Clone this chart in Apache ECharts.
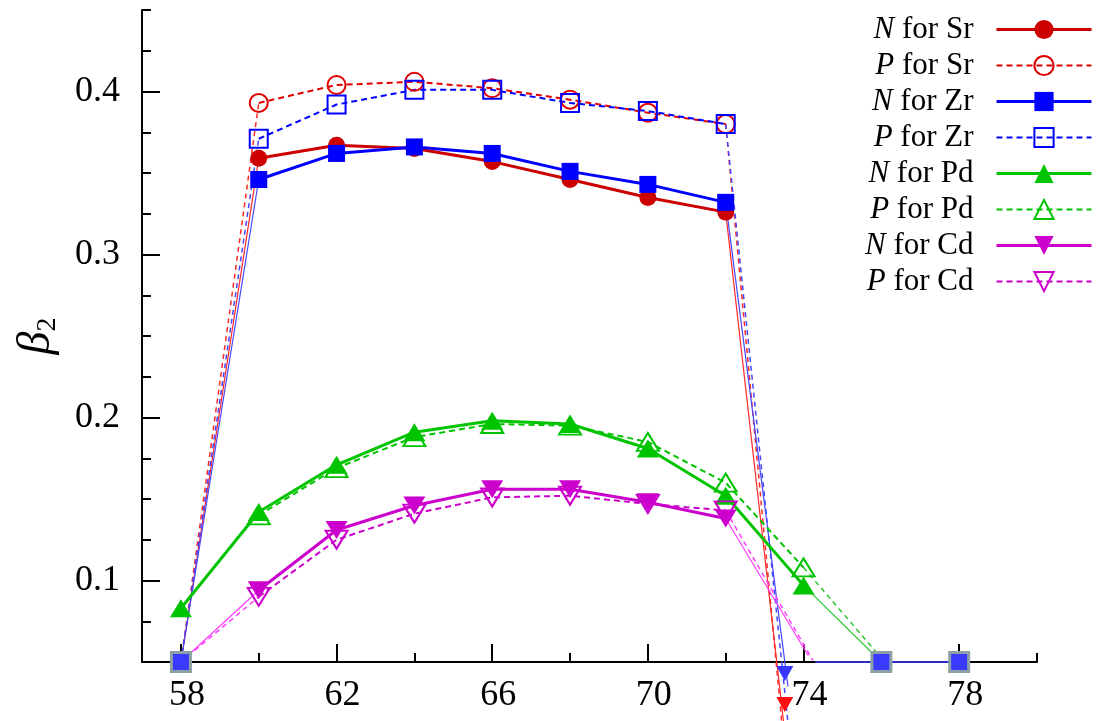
<!DOCTYPE html>
<html>
<head>
<meta charset="utf-8">
<script src="https://cdn.jsdelivr.net/npm/echarts@6/dist/echarts.min.js"></script>
<style>
  html, body { margin: 0; padding: 0; background: #ffffff; }
  #chart { width: 1101px; height: 721px; }
</style>
</head>
<body>
<div id="chart"></div>
<script>
// Neutron numbers of the computed isotopes
const coreMass = [60, 62, 64, 66, 68, 70, 72];
const pdMassN = [58, 60, 62, 64, 66, 68, 70, 72, 74];
const pdMassP = [60, 62, 64, 66, 68, 70, 72, 74];

// Quadrupole deformation beta_2, neutron (N) and proton (P)
const srN = [0.359, 0.367, 0.365, 0.357, 0.346, 0.335, 0.326];
const srP = [0.393, 0.404, 0.406, 0.402, 0.395, 0.387, 0.380];
const zrN = [0.346, 0.362, 0.366, 0.362, 0.351, 0.343, 0.332];
const zrP = [0.371, 0.392, 0.401, 0.401, 0.393, 0.388, 0.380];
const pdN = [0.083, 0.142, 0.171, 0.191, 0.198, 0.196, 0.181, 0.152, 0.097];
const pdP = [0.140, 0.169, 0.188, 0.196, 0.195, 0.185, 0.160, 0.108];
const cdN = [0.094, 0.131, 0.146, 0.156, 0.156, 0.148, 0.138];
const cdP = [0.090, 0.125, 0.141, 0.151, 0.152, 0.147, 0.143];

// Off-scale continuations of each chain: [leading point, trailing point]
const srNEdge = [[58, 0.05], [73.55, 0.0]];
const srPEdge = [[58, 0.05], [73.5, -0.002]];
const zrNEdge = [[58, 0.05], [73.6, 0.035]];
const zrPEdge = [[58, 0.05], [73.7, -0.01]];
const pdNEdge = [null, [76, 0.05]];
const pdPEdge = [null, [76.05, 0.051]];
const cdNEdge = [[58, 0.05], [74.12, 0.054]];
const cdPEdge = [[58, 0.05], [74.24, 0.051]];

// Points pinned at the lower limit of the plot
const floorPoints = [[58, 0.05], [76, 0.05], [78, 0.05]];
const floorLine = [[74.3, 0.05], [76, 0.05], [78, 0.05]];
const offScaleSr = [[73.52, 0.024]];
const offScaleZr = [[73.52, 0.043]];

// Axis ticks and labels
const xMajorTicks = [58, 62, 66, 70, 74, 78];
const xMinorTicks = [60, 64, 68, 72, 76, 80];
const yMajorTicks = [0.1, 0.2, 0.3, 0.4];
const yMinorTicks = [0.075, 0.125, 0.15, 0.175, 0.225, 0.25, 0.275, 0.325, 0.35, 0.375, 0.425, 0.45];

const FONT = 'Liberation Serif';
const DOWN_TRIANGLE = 'path://M0,0L20,0L10,16Z';

const RED = '#cc0000', RED_D = '#e00000', RED_T = '#ff2a2a';
const BLUE = '#0000ff', BLUE_T = '#4646ff';
const GREEN = '#00c400', GREEN_T = '#2ec82e';
const MAG = '#cc00cc', MAG_T = '#ff3cff';

function pairs(xs, ys) {
  return xs.map((x, i) => [x, ys[i]]);
}

// Thin connectors from the first/last computed point to the off-scale points
function connector(xs, ys, edge) {
  const out = [];
  const n = xs.length;
  if (edge[0]) out.push(edge[0], [xs[0], ys[0]]);
  if (edge[0] && edge[1]) out.push([(xs[0] + xs[n - 1]) / 2, '-']);
  if (edge[1]) out.push([xs[n - 1], ys[n - 1]], edge[1]);
  return out;
}

function mainSeries(name, xs, ys, color, dashed, symbol, size, hollow) {
  return {
    name: name,
    type: 'line',
    data: pairs(xs, ys),
    symbol: symbol,
    symbolSize: size,
    showAllSymbol: true,
    clip: false,
    z: 3,
    lineStyle: { color: color, width: dashed ? 2 : 3, type: dashed ? [6, 4] : 'solid' },
    itemStyle: hollow
      ? { color: 'rgba(0,0,0,0)', borderColor: color, borderWidth: 2 }
      : { color: color, borderWidth: 0 },
    emphasis: { disabled: true },
    animation: false
  };
}

function thinSeries(xs, ys, edge, color, dashed) {
  return {
    type: 'line',
    data: connector(xs, ys, edge),
    symbol: 'none',
    connectNulls: false,
    clip: false,
    z: 2,
    lineStyle: { color: color, width: dashed ? 1.5 : 1.2, type: dashed ? [5, 4] : 'solid' },
    emphasis: { disabled: true },
    animation: false
  };
}

const names = ['N for Sr', 'P for Sr', 'N for Zr', 'P for Zr', 'N for Pd', 'P for Pd', 'N for Cd', 'P for Cd'];

const series = [
  thinSeries(coreMass, srN, srNEdge, RED_T, false),
  thinSeries(coreMass, srP, srPEdge, RED_T, true),
  thinSeries(coreMass, zrN, zrNEdge, BLUE_T, false),
  thinSeries(coreMass, zrP, zrPEdge, BLUE_T, true),
  thinSeries(pdMassN, pdN, pdNEdge, GREEN_T, false),
  thinSeries(pdMassP, pdP, pdPEdge, GREEN_T, true),
  thinSeries(coreMass, cdN, cdNEdge, MAG_T, false),
  thinSeries(coreMass, cdP, cdPEdge, MAG_T, true),
  mainSeries(names[0], coreMass, srN, RED, false, 'circle', 17, false),
  mainSeries(names[1], coreMass, srP, RED_D, true, 'circle', 18, true),
  mainSeries(names[2], coreMass, zrN, BLUE, false, 'rect', 17, false),
  mainSeries(names[3], coreMass, zrP, BLUE, true, 'rect', 18, true),
  mainSeries(names[4], pdMassN, pdN, GREEN, false, 'triangle', [22, 18], false),
  mainSeries(names[5], pdMassP, pdP, GREEN, true, 'triangle', [22, 18], true),
  mainSeries(names[6], coreMass, cdN, MAG, false, DOWN_TRIANGLE, [22, 18], false),
  mainSeries(names[7], coreMass, cdP, MAG, true, DOWN_TRIANGLE, [22, 18], true),
  {
    type: 'line', data: floorLine, symbol: 'none', clip: false, z: 4,
    lineStyle: { color: '#3a3aff', width: 1.5 },
    emphasis: { disabled: true }, animation: false
  },
  {
    type: 'line', data: offScaleZr, symbol: DOWN_TRIANGLE, symbolSize: [17, 15], clip: false, z: 4,
    lineStyle: { width: 0 }, itemStyle: { color: '#3535ff', borderWidth: 0 },
    emphasis: { disabled: true }, animation: false
  },
  {
    type: 'line', data: offScaleSr, symbol: DOWN_TRIANGLE, symbolSize: [17, 15], clip: false, z: 4,
    lineStyle: { width: 0 }, itemStyle: { color: '#ff1010', borderWidth: 0 },
    emphasis: { disabled: true }, animation: false
  },
  {
    type: 'line', data: floorPoints, symbol: 'rect', symbolSize: 19, clip: false, z: 5,
    lineStyle: { width: 0 },
    itemStyle: { color: '#3a3aff', borderColor: '#8da0a6', borderWidth: 3 },
    emphasis: { disabled: true }, animation: false
  }
];

const tickLine = { color: '#000', width: 2 };

const option = {
  backgroundColor: '#ffffff',
  animation: false,
  grid: { left: 142, right: 64, top: 10, bottom: 59, outerBoundsMode: 'none' },
  xAxis: [
    {
      type: 'value', min: 57, max: 80, position: 'bottom',
      axisLine: { onZero: false, lineStyle: { color: '#000', width: 2 } },
      axisTick: { inside: true, length: 18, lineStyle: tickLine, customValues: xMajorTicks },
      axisLabel: {
        customValues: xMajorTicks, margin: 16, color: '#000',
        fontFamily: FONT, fontSize: 36, padding: [0, 0, 0, 12]
      },
      splitLine: { show: false }
    },
    {
      type: 'value', min: 57, max: 80, position: 'bottom',
      axisLine: { show: false, onZero: false },
      axisTick: { inside: true, length: 9, lineStyle: tickLine, customValues: xMinorTicks },
      axisLabel: { show: false },
      splitLine: { show: false }
    }
  ],
  yAxis: [
    {
      type: 'value', min: 0.05, max: 0.45, position: 'left',
      axisLine: { onZero: false, lineStyle: { color: '#000', width: 2 } },
      axisTick: { inside: true, length: 18, lineStyle: tickLine, customValues: yMajorTicks },
      axisLabel: {
        customValues: yMajorTicks, margin: 22, color: '#000',
        fontFamily: FONT, fontSize: 36,
        formatter: v => v.toFixed(1)
      },
      splitLine: { show: false },
      name: '{b|β}{s|2}',
      nameLocation: 'middle',
      nameGap: 80,
      nameRotate: 90,
      nameTextStyle: {
        color: '#000',
        rich: {
          b: { fontFamily: FONT, fontStyle: 'italic', fontSize: 46, lineHeight: 50, color: '#000' },
          s: { fontFamily: FONT, fontSize: 28, lineHeight: 22, verticalAlign: 'bottom', color: '#000' }
        }
      }
    },
    {
      type: 'value', min: 0.05, max: 0.45, position: 'left',
      axisLine: { show: false, onZero: false },
      axisTick: { inside: true, length: 9, lineStyle: tickLine, customValues: yMinorTicks },
      axisLabel: { show: false },
      splitLine: { show: false }
    }
  ],
  legend: {
    data: names,
    orient: 'vertical',
    align: 'right',
    right: 3,
    top: 9,
    itemWidth: 95,
    itemHeight: 24,
    itemGap: 5,
    selectedMode: false,
    formatter: name => name.replace(/^([NP]) /, '{i|$1} '),
    lineStyle: { width: 'inherit' },
    itemStyle: { borderWidth: 'inherit' },
    textStyle: {
      fontFamily: FONT, fontSize: 31, color: '#000', lineHeight: 24,
      padding: [0, 18, 0, 0],
      rich: {
        i: { fontFamily: FONT, fontStyle: 'italic', fontSize: 31, lineHeight: 24, color: '#000' }
      }
    }
  },
  series: series
};

const chart = echarts.init(document.getElementById('chart'), null, { renderer: 'canvas' });
chart.setOption(option);
</script>
</body>
</html>
